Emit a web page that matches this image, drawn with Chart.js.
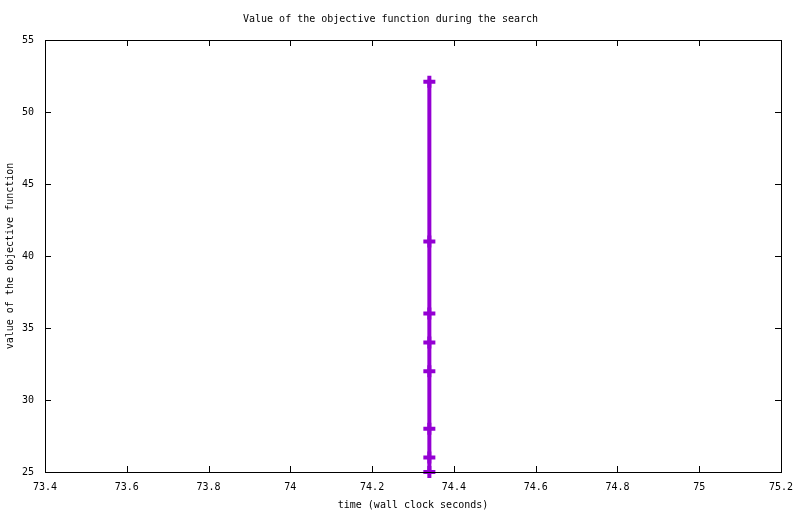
<!DOCTYPE html>
<html>
<head>
<meta charset="utf-8">
<script src="https://cdn.jsdelivr.net/npm/chart.js@4"></script>
<style>
  html, body { margin: 0; padding: 0; background: #fff; }
  #wrap { width: 800px; height: 514px; }
</style>
</head>
<body>
<div id="wrap"><canvas id="mycanvas" width="800" height="514"></canvas></div>
<script>
// data
var timeValues = [74.34, 74.34, 74.34, 74.34, 74.34, 74.34, 74.34, 74.34];
var objectiveValues = [52.1, 41, 36, 34, 32, 28, 26, 25];
var xTicks = [73.4, 73.6, 73.8, 74, 74.2, 74.4, 74.6, 74.8, 75, 75.2];
var xTickLabels = ['73.4', '73.6', '73.8', '74', '74.2', '74.4', '74.6', '74.8', '75', '75.2'];
var yTicks = [25, 30, 35, 40, 45, 50, 55];
var yTickLabels = ['25', '30', '35', '40', '45', '50', '55'];

var points = [];
for (var i in timeValues) {
	points.push({x: timeValues[i], y: objectiveValues[i]});
}

var monoFont = {family: "'DejaVu Sans Mono', 'Liberation Mono', monospace", size: 10, weight: 'normal'};

// gnuplot style frame with inward ticks on all four sides
var framePlugin = {
	id: 'frame',
	afterDraw: function(chart) {
		var ctx = chart.ctx;
		var a = chart.chartArea;
		var xs = chart.scales.x;
		var ys = chart.scales.y;
		var len = 6;
		ctx.save();
		ctx.strokeStyle = '#000';
		ctx.lineWidth = 1;
		ctx.beginPath();
		xs.ticks.forEach(function(t) {
			var px = Math.round(xs.getPixelForValue(t.value)) + 0.5;
			ctx.moveTo(px, a.bottom); ctx.lineTo(px, a.bottom - len);
			ctx.moveTo(px, a.top); ctx.lineTo(px, a.top + len);
		});
		ys.ticks.forEach(function(t) {
			var py = Math.round(ys.getPixelForValue(t.value)) + 0.5;
			ctx.moveTo(a.left, py); ctx.lineTo(a.left + len, py);
			ctx.moveTo(a.right, py); ctx.lineTo(a.right - len, py);
		});
		ctx.stroke();
		ctx.strokeRect(Math.round(a.left) + 0.5, Math.round(a.top) + 0.5,
			Math.round(a.right - a.left), Math.round(a.bottom - a.top));
		ctx.restore();
	}
};

var chartdata = {
	datasets: [
		{
			label: 'objective',
			data: points,
			borderColor: '#9400D3',
			backgroundColor: '#9400D3',
			borderWidth: 4,
			borderCapStyle: 'square',
			pointStyle: 'cross',
			pointRadius: 6,
			pointBorderWidth: 4,
			pointBorderColor: '#9400D3',
			clip: false
		}
	]
};

var ctx = document.getElementById('mycanvas');

var lineGraph = new Chart(ctx, {
	type: 'line',
	data: chartdata,
	plugins: [framePlugin],
	options: {
		responsive: false,
		animation: false,
		layout: {padding: {top: 0, right: 19, left: 0, bottom: 0}},
		plugins: {
			legend: {display: false},
			tooltip: {enabled: false},
			title: {
				display: true,
				text: 'Value of the objective function during the search',
				color: '#000',
				font: monoFont,
				padding: {top: 13, bottom: 15}
			}
		},
		scales: {
			x: {
				type: 'linear',
				min: 73.4,
				max: 75.2,
				grid: {display: false, drawTicks: false},
				border: {display: false},
				afterBuildTicks: function(scale) {
					scale.ticks = xTicks.map(function(v) { return {value: v}; });
				},
				afterFit: function(scale) {
					scale.height = 42;
					scale.paddingRight = 0;
					scale.paddingLeft = 0;
				},
				ticks: {
					color: '#000',
					font: monoFont,
					padding: 9,
					maxRotation: 0,
					autoSkip: false,
					callback: function(value, index) { return xTickLabels[index]; }
				},
				title: {
					display: true,
					text: 'time (wall clock seconds)',
					color: '#000',
					font: monoFont,
					padding: {top: 0, bottom: 3}
				}
			},
			y: {
				type: 'linear',
				min: 25,
				max: 55,
				grid: {display: false, drawTicks: false},
				border: {display: false},
				afterBuildTicks: function(scale) {
					scale.ticks = yTicks.map(function(v) { return {value: v}; });
				},
				afterFit: function(scale) {
					scale.width = 45;
					scale.paddingTop = 0;
					scale.paddingBottom = 0;
				},
				ticks: {
					color: '#000',
					font: monoFont,
					padding: 11,
					autoSkip: false,
					callback: function(value, index) { return yTickLabels[index]; }
				},
				title: {
					display: true,
					text: 'value of the objective function',
					color: '#000',
					font: monoFont,
					padding: {top: 4, bottom: 0}
				}
			}
		}
	}
});
</script>
</body>
</html>
